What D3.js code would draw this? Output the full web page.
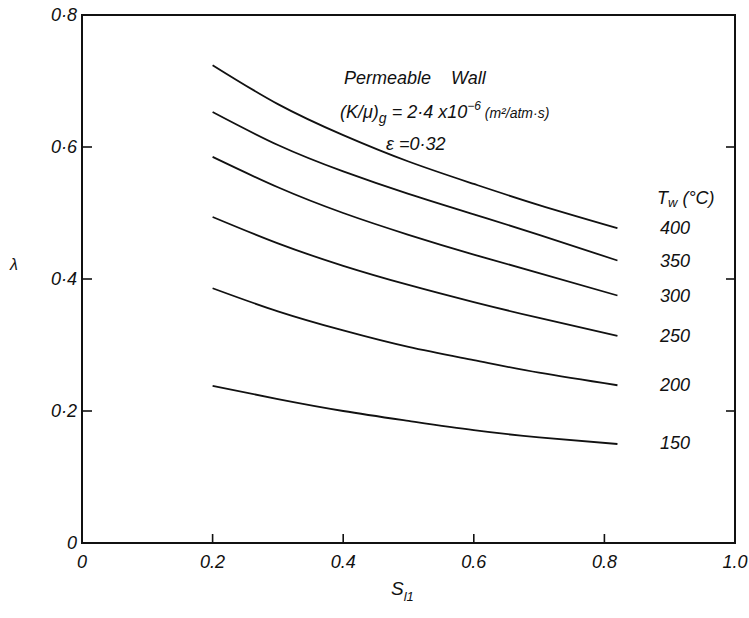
<!DOCTYPE html>
<html>
<head>
<meta charset="utf-8">
<script src="https://cdn.jsdelivr.net/npm/d3@7"></script>
<style>
  html, body { margin: 0; padding: 0; background: #fff; }
  svg text { font-family: "Liberation Sans", "DejaVu Sans", sans-serif; font-style: italic; fill: #111; }
</style>
</head>
<body>
<svg id="chart" width="749" height="618"></svg>
<script>
// Saturation S_l1 sample positions shared by every curve
const sValues = [0.2, 0.3, 0.4, 0.5, 0.6, 0.7, 0.82];

// Wall temperatures (°C) and λ along each curve
const temps = ["400", "350", "300", "250", "200", "150"];
const lambda400 = [0.724, 0.665, 0.618, 0.578, 0.544, 0.512, 0.477];
const lambda350 = [0.653, 0.603, 0.563, 0.529, 0.498, 0.467, 0.428];
const lambda300 = [0.585, 0.539, 0.500, 0.467, 0.437, 0.409, 0.375];
const lambda250 = [0.494, 0.454, 0.420, 0.391, 0.365, 0.341, 0.314];
const lambda200 = [0.386, 0.351, 0.322, 0.297, 0.277, 0.258, 0.239];
const lambda150 = [0.238, 0.218, 0.200, 0.185, 0.171, 0.160, 0.150];
const series = [lambda400, lambda350, lambda300, lambda250, lambda200, lambda150];

// Tick labels
const xTicks = [0, 0.2, 0.4, 0.6, 0.8, 1.0];
const xTickLabels = ["0", "0.2", "0.4", "0.6", "0.8", "1.0"];
const yTicks = [0, 0.2, 0.4, 0.6, 0.8];
const yTickLabels = ["0", "0·2", "0·4", "0·6", "0·8"];

const svg = d3.select("#chart");
const plotL = 82, plotR = 735, plotT = 15, plotB = 543;

const x = d3.scaleLinear().domain([0, 1.0]).range([plotL, plotR]);
const y = d3.scaleLinear().domain([0, 0.8]).range([plotB, plotT]);

// Frame
svg.append("rect")
  .attr("x", plotL).attr("y", plotT)
  .attr("width", plotR - plotL).attr("height", plotB - plotT)
  .attr("fill", "none").attr("stroke", "#111").attr("stroke-width", 2);

// Inward ticks: bottom and left/right
const inner = [0.2, 0.4, 0.6, 0.8];
svg.selectAll(".xt").data(inner).join("line")
  .attr("x1", d => x(d)).attr("x2", d => x(d))
  .attr("y1", plotB).attr("y2", plotB - 9)
  .attr("stroke", "#111").attr("stroke-width", 1.6);
const innerY = [0.2, 0.4, 0.6];
svg.selectAll(".ytl").data(innerY).join("line")
  .attr("x1", plotL).attr("x2", plotL + 10)
  .attr("y1", d => y(d)).attr("y2", d => y(d))
  .attr("stroke", "#111").attr("stroke-width", 1.6);
svg.selectAll(".ytr").data(innerY).join("line")
  .attr("x1", plotR).attr("x2", plotR - 9)
  .attr("y1", d => y(d)).attr("y2", d => y(d))
  .attr("stroke", "#111").attr("stroke-width", 1.6);

// Tick labels
svg.selectAll(".xl").data(xTicks).join("text")
  .attr("x", d => x(d)).attr("y", plotB + 25)
  .attr("text-anchor", "middle").attr("font-size", 18)
  .text((d, i) => xTickLabels[i]);
svg.selectAll(".yl").data(yTicks).join("text")
  .attr("x", plotL - 5).attr("y", d => y(d) + 6)
  .attr("text-anchor", "end").attr("font-size", 18)
  .text((d, i) => yTickLabels[i]);

// Axis titles
svg.append("text").attr("x", 14).attr("y", 270)
  .attr("text-anchor", "middle").attr("font-size", 16).text("λ");
const xt = svg.append("text").attr("x", 391).attr("y", 595).attr("font-size", 19);
xt.append("tspan").text("S");
xt.append("tspan").attr("dy", 6).attr("font-size", 13).text("l1");

// Curves
const line = d3.line()
  .x((d, i) => x(sValues[i]))
  .y(d => y(d))
  .curve(d3.curveNatural);
svg.selectAll(".curve").data(series).join("path")
  .attr("d", d => line(d))
  .attr("fill", "none").attr("stroke", "#111").attr("stroke-width", 1.8);

// Curve labels at right ends
svg.selectAll(".cl").data(series).join("text")
  .attr("x", 660)
  .attr("y", (d, i) => y(d[d.length - 1]) + 6 + (i === 5 ? -1 : 0))
  .attr("font-size", 18)
  .text((d, i) => temps[i]);
const tw = svg.append("text").attr("x", 657).attr("y", 204).attr("font-size", 18);
tw.append("tspan").text("T");
tw.append("tspan").attr("dy", 3).attr("font-size", 13).text("w");
tw.append("tspan").attr("dy", -3).text(" (°C)");

// Annotation block
svg.append("text").attr("x", 344).attr("y", 84).attr("font-size", 18)
  .attr("xml:space", "preserve").text("Permeable    Wall");
const k = svg.append("text").attr("x", 340).attr("y", 118).attr("font-size", 18);
k.append("tspan").text("(K/μ)");
k.append("tspan").attr("dy", 5).attr("font-size", 14).text("g");
k.append("tspan").attr("dy", -5).text(" = 2·4 x10");
k.append("tspan").attr("dy", -8).attr("font-size", 12).text("−6");
k.append("tspan").attr("dy", 8).attr("font-size", 14).text(" (m²/atm·s)");
svg.append("text").attr("x", 386).attr("y", 150).attr("font-size", 18)
  .text("ε =0·32");
</script>
</body>
</html>
